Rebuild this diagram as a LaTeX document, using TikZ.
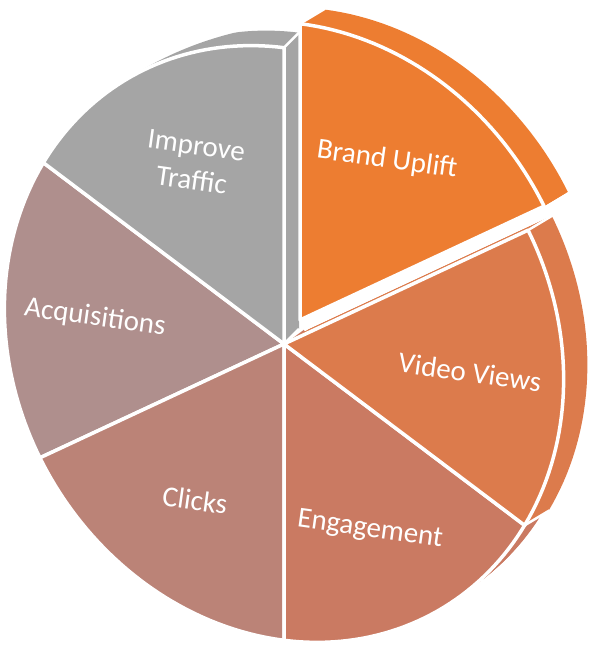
\documentclass[tikz,border=0pt]{standalone}
\usepackage{fontspec}
\setmainfont{Carlito}
\usepackage{tikz}

\definecolor{upliftorange}{HTML}{ED7D31}
\definecolor{videoorange}{HTML}{DC7B4C}
\definecolor{engagered}{HTML}{CA7A62}
\definecolor{clicksrose}{HTML}{BB8377}
\definecolor{acquiremauve}{HTML}{AF8F8D}
\definecolor{trafficgray}{HTML}{A5A5A5}

% slice between two angles, outer rim on the tilted ellipse
\newcommand{\slicepath}[2]{(0,0) -- plot[domain=#1:#2, samples=40] (\x:{pierim(\x)}) -- cycle}

\begin{document}
\begin{tikzpicture}[x=1pt, y=1pt,
    declare function={pierim(\t)=100*8.2852/sqrt((2.69*cos(\t-120.6))^2+(3.08*sin(\t-120.6))^2);
                      fade(\t)=min(1,max(0,(120-\t)/18));}]
    % Styles
    \tikzstyle{slicetext} = [text=white, font=\fontsize{29}{35}\selectfont, rotate=-8, align=center]
    \tikzstyle{rim} = [draw=white, line width=3.5pt, line join=round]
    \tikzstyle{depthedge} = [draw=white, line width=2.5pt]

    \useasboundingbox (-284,-303) rectangle (309,344);

    % Sides
    \fill[trafficgray] (0,0) -- (15,15)
        -- plot[domain=90:122, samples=40] ({pierim(\x)*cos(\x)+15*fade(\x)}, {pierim(\x)*sin(\x)+15*fade(\x)})
        -- plot[domain=122:90, samples=40] (\x:{pierim(\x)}) -- cycle;
    \foreach \s in {0,0.05,...,1}
        \fill[engagered, shift={(\s*20,\s*15)}] \slicepath{-90}{-37};
    \foreach \s in {0,0.05,...,1}
        \fill[videoorange, shift={(\s*25,\s*15)}] \slicepath{-37}{25};
    \foreach \s in {0,0.05,...,1}
        \fill[upliftorange, shift={(16+\s*25,24+\s*15)}] \slicepath{25}{90};
    \path [depthedge] (90:{pierim(90)}) -- ++(15,15);
    \path [depthedge] (0,0) -- ++(15,15);
    \path [depthedge] (25:{pierim(25)}) -- ++(25,15);
    \path [depthedge] (-37:{pierim(-37)}) -- ++(25,15);
    \path [depthedge] ([shift={(16,24)}]90:{pierim(90)}) -- ++(25,15);

    % Slices
    \path [fill=acquiremauve, rim] \slicepath{143}{205};
    \path [fill=clicksrose, rim] \slicepath{205}{270};
    \path [fill=engagered, rim] \slicepath{270}{323};
    \path [fill=videoorange, rim] \slicepath{-37}{25};
    \path [fill=trafficgray, rim] \slicepath{90}{143};
    \path [fill=upliftorange, rim, shift={(16,24)}] \slicepath{25}{90};

    % Labels
    \node [slicetext] (uplift) at (103,184) {Brand Uplift};
    \node [slicetext] (views) at (186,-28) {Video Views};
    \node [slicetext] (engagement) at (86,-186) {Engagement};
    \node [slicetext] (clicks) at (-89,-156) {Clicks};
    \node [slicetext] (acquisitions) at (-189,26) {Acquisitions};
    \node [slicetext] (traffic) at (-90,181) {Improve\\Traffic};
\end{tikzpicture}
\end{document}
